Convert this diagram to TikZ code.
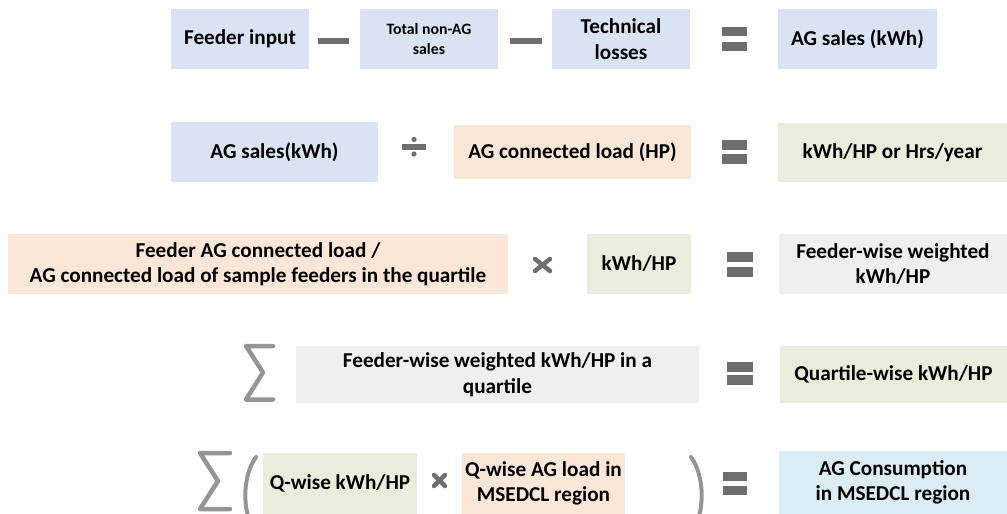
\documentclass[tikz,border=0pt]{standalone}
\usepackage{fontspec}
\setmainfont{Carlito}
\definecolor{cblue}{HTML}{DAE3F3}
\definecolor{cpeach}{HTML}{FCE6D8}
\definecolor{cgreen}{HTML}{E7EFDC}
\definecolor{cgray}{HTML}{EFEFEF}
\definecolor{ccyan}{HTML}{DCECF4}
\definecolor{csign}{HTML}{6E6E6E}
\definecolor{csig}{HTML}{959595}
\begin{document}
\begin{tikzpicture}[x=1pt,y=-1pt,
  bx/.style={inner sep=0pt, align=center, font=\fontsize{21.2}{25.5}\selectfont\bfseries},
  sg/.style={fill=csign, draw=none},
  xs/.style={draw=csign, line width=4.5pt, line cap=round},
  sigma/.style={draw=csig, line width=4.5pt, line cap=round, line join=round},
  par/.style={draw=csig, line width=4pt, line cap=round}]
\useasboundingbox (0,0) rectangle (1007,514);
% ---------- Row 1
\node[bx, fill=cblue, minimum width=138pt, minimum height=60pt] (fi) at (240,39) {Feeder input};
\node[bx, fill=cblue, minimum width=138pt, minimum height=60pt, font=\fontsize{15.8}{19.5}\selectfont\bfseries] (tn) at (429,39) {Total non-AG\\sales};
\node[bx, fill=cblue, minimum width=138pt, minimum height=60pt] (tl) at (621,39) {Technical\\losses};
\node[bx, fill=cblue, minimum width=159pt, minimum height=60pt] (ags) at (857.5,39) {AG sales (kWh)};
\fill[sg] (318,38) rectangle (349,44);
\fill[sg] (510,38) rectangle (542,44);
\fill[sg] (722,27) rectangle (747,36);
\fill[sg] (722,42) rectangle (747,51);
% ---------- Row 2
\node[bx, fill=cblue, minimum width=207pt, minimum height=60pt] (ag2) at (274.5,152) {AG sales(kWh)};
\node[bx, fill=cpeach, minimum width=237pt, minimum height=54pt] (acl) at (572.5,152) {AG connected load (HP)};
\node[bx, fill=cgreen, minimum width=229pt, minimum height=59pt] (kwy) at (892.5,152.5) {kWh/HP or Hrs/year};
\fill[sg] (402,144) rectangle (426,150);
\fill[sg] (414,139.5) circle (2.6);
\fill[sg] (414,154) circle (2.6);
\fill[sg] (722,140) rectangle (747,150);
\fill[sg] (722,154) rectangle (747,164);
% ---------- Row 3
\node[bx, fill=cpeach, minimum width=500pt, minimum height=60pt] (fcl) at (258,264) {Feeder AG connected load /\\AG connected load of sample feeders in the quartile};
\node[bx, fill=cgreen, minimum width=104pt, minimum height=60pt] (kh) at (639,264) {kWh/HP};
\node[bx, fill=cgray, minimum width=228pt, minimum height=60pt] (fww) at (893,264) {Feeder-wise weighted\\kWh/HP};
\draw[xs] (535,259) -- (550,271) (535,271) -- (550,259);
\fill[sg] (727,252) rectangle (753,262);
\fill[sg] (727,267) rectangle (753,277);
% ---------- Row 4
\node[bx, fill=cgray, minimum width=403pt, minimum height=57pt] (gq) at (497.5,374.5) {Feeder-wise weighted kWh/HP in a\\quartile};
\node[bx, fill=cgreen, minimum width=227pt, minimum height=57pt] (qw) at (893.5,374.5) {Quartile-wise kWh/HP};
\draw[sigma] (273,346) -- (246,346) -- (263,372.5) -- (246,399.5) -- (273,399.5);
\fill[sg] (727,362) rectangle (753,372);
\fill[sg] (727,375) rectangle (753,385);
% ---------- Row 5
\node[bx, fill=cgreen, minimum width=154pt, minimum height=61pt] (qk) at (340,483.5) {Q-wise kWh/HP};
\node[bx, fill=cpeach, minimum width=163pt, minimum height=61pt] (ql) at (543.5,483.5) {Q-wise AG load in\\MSEDCL region};
\node[bx, fill=ccyan, minimum width=228pt, minimum height=63pt] (agc) at (893,482.5) {AG Consumption\\in MSEDCL region};
\draw[sigma] (230,453) -- (200,453) -- (218,481) -- (200,509) -- (230,509);
\draw[par] (256,457) .. controls (243,475) and (243,505) .. (250,522);
\draw[par] (691,457) .. controls (704,475) and (704,505) .. (697,522);
\draw[xs] (434,475) -- (445,486) (434,486) -- (445,475);
\fill[sg] (723,472) rectangle (747,481);
\fill[sg] (723,486) rectangle (747,495);
\end{tikzpicture}
\end{document}
